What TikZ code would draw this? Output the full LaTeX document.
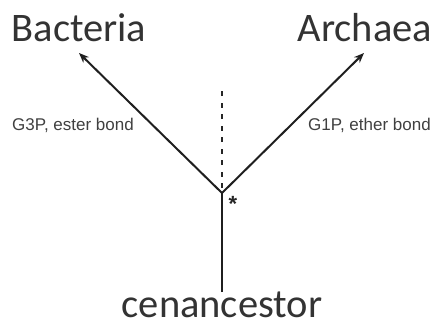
\documentclass[tikz,border=0pt]{standalone}
\usepackage{fontspec}
\setmainfont{Carlito}
\newfontfamily\labelfont{Liberation Sans}
\usetikzlibrary{arrows.meta}
\begin{document}
\begin{tikzpicture}[x=1pt,y=-1pt,
  branch/.style={line width=2pt, draw=black!88},
  tip/.style={-{Stealth[length=10pt,width=8pt]}},
  taxon/.style={font=\fontsize{40.5}{40}\selectfont, text=black!80, inner sep=0pt, anchor=base},
  trait/.style={font=\labelfont\fontsize{17}{17}\selectfont, text=black!75, inner sep=0pt, anchor=base west},
  marker/.style={line width=1.8pt, draw=black!85, dash pattern=on 5pt off 6.5pt}]
  \useasboundingbox (0,0) rectangle (437,327);

  % tree skeleton
  \coordinate (root) at (222,292);
  \coordinate (split) at (222,193);
  \coordinate (btip) at (79,53);
  \coordinate (atip) at (364,53);
  \coordinate (mtop) at (222,90);
  \coordinate (mbot) at (222,188);

  \draw[branch] (root) -- (split);
  \draw[branch,tip] (split) -- (btip);
  \draw[branch,tip] (split) -- (atip);
  \draw[marker] (mbot) -- (mtop);

  % labels
  \node[taxon] (bac) at (79,41) {Bacteria};
  \node[taxon] (arc) at (365,41) {Archaea};
  \node[taxon] (cen) at (222,317) {cenancestor};
  \node[trait] (g3p) at (12,130) {G3P, ester bond};
  \node[trait] (g1p) at (308,130) {G1P, ether bond};
  \node[font=\labelfont\bfseries\fontsize{22}{22}\selectfont, inner sep=0pt, text=black!85] (star) at (233,204) {*};
\end{tikzpicture}
\end{document}
